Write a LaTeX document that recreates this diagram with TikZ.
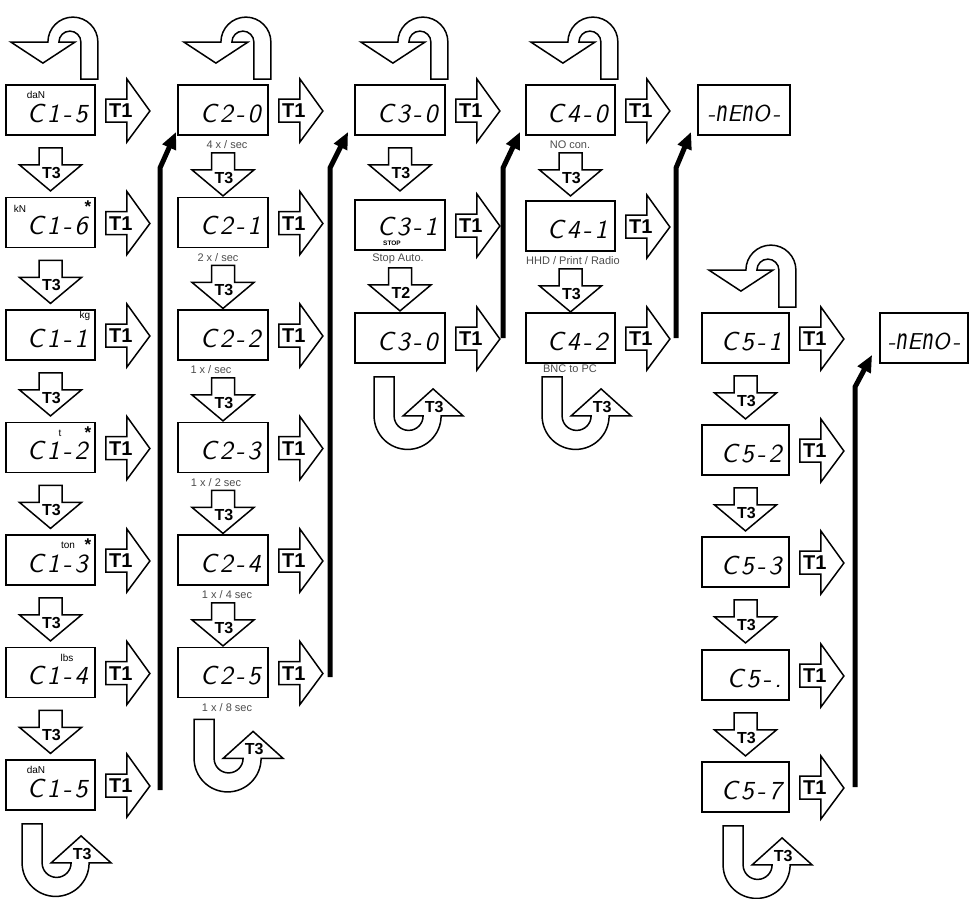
\documentclass[tikz,border=0pt]{standalone}
\usepackage{fontspec}
\usetikzlibrary{arrows.meta,calc}
\newfontfamily\lblfont{Liberation Sans}
\newfontfamily\lcdfont{lmsans10-oblique.otf}[LetterSpace=12]

\begin{document}
\begin{tikzpicture}[x=1pt,y=-1pt]
\tikzstyle{box}=[draw,line width=1.8pt,minimum width=89pt,minimum height=50pt,inner sep=0pt]
\tikzstyle{lcd}=[font=\lcdfont\fontsize{26}{26}\selectfont,inner sep=0pt,anchor=base east]
\tikzstyle{unit}=[font=\lblfont\fontsize{10}{10}\selectfont,inner sep=0pt]
\tikzstyle{star}=[font=\lblfont\bfseries\fontsize{17}{17}\selectfont,inner sep=0pt,anchor=base]
\tikzstyle{sub}=[font=\lblfont\fontsize{11}{11}\selectfont,text=black!70,inner sep=0pt]
\tikzstyle{key}=[font=\lblfont\bfseries\fontsize{20}{20}\selectfont,inner sep=0pt]
\tikzstyle{keysm}=[font=\lblfont\bfseries\fontsize{16}{16}\selectfont,inner sep=0pt]
\tikzstyle{blk}=[draw,line width=1.5pt]
\tikzstyle{conn}=[draw,line width=5pt,-{Triangle[length=17pt,width=14pt]}]
\tikzset{
  tone/.pic={
    \draw[blk] (10,-11) -- (31,-11) -- (31,-31) -- (54,1) -- (31,32) -- (31,12) -- (10,12) -- cycle;
    \node[key] (-t) at (25,1) {T1};
  },
  tdown/.pic={
    \draw[blk] (-11.5,12) -- (11.5,12) -- (11.5,29) -- (31,29) -- (0,55) -- (-31,29) -- (-11.5,29) -- cycle;
    \node[keysm] (-t) at (1,37) {#1};
  },
  hook/.pic={
    \draw[blk] (2,-5) -- (2,-42) arc[start angle=0,end angle=-180,radius=25] -- (-85,-42) -- (-53,-21) -- (-21,-42) -- (-37,-42) arc[start angle=180,end angle=360,radius=11] -- (-15,-5) -- cycle;
  },
  uturn/.pic={
    \draw[blk] (17,13) -- (17,52) arc[start angle=180,end angle=0,radius=33.5] -- (106,52) -- (76,25) -- (46,52) -- (66,52) arc[start angle=0,end angle=180,radius=14.5] -- (37,13) -- cycle;
    \node[keysm] (-t) at (77,43) {T3};
  }
}
\useasboundingbox (0,0) rectangle (969,898);

% column 1: units
\node[box] (c1a) at (50.5,110) {};
\node[box] (c1b) at (50.5,222.5) {};
\node[box] (c1c) at (50.5,335) {};
\node[box] (c1d) at (50.5,447.5) {};
\node[box] (c1e) at (50.5,560) {};
\node[box] (c1f) at (50.5,672.5) {};
\node[box] (c1g) at (50.5,785) {};
\node[lcd] (c1a-d) at ($(c1a.east)+(-8,12)$) {C1-5};
\node[lcd] (c1b-d) at ($(c1b.east)+(-8,12)$) {C1-6};
\node[lcd] (c1c-d) at ($(c1c.east)+(-8,12)$) {C1-1};
\node[lcd] (c1d-d) at ($(c1d.east)+(-8,12)$) {C1-2};
\node[lcd] (c1e-d) at ($(c1e.east)+(-8,12)$) {C1-3};
\node[lcd] (c1f-d) at ($(c1f.east)+(-8,12)$) {C1-4};
\node[lcd] (c1g-d) at ($(c1g.east)+(-8,12)$) {C1-5};
\node[unit] (c1a-u) at (36,95) {daN};
\node[unit] (c1b-u) at (20,209) {kN};
\node[unit] (c1c-u) at (85,316) {kg};
\node[unit] (c1d-u) at (60,433) {t};
\node[unit] (c1e-u) at (68,545) {ton};
\node[unit] (c1f-u) at (67,658) {lbs};
\node[unit] (c1g-u) at (36,770) {daN};
\node[star] (c1b-s) at (88,212) {*};
\node[star] (c1d-s) at (88,438) {*};
\node[star] (c1e-s) at (88,550) {*};

% column 2: rate
\node[box,minimum width=90pt] (c2a) at (223,110) {};
\node[box,minimum width=90pt] (c2b) at (223,222.5) {};
\node[box,minimum width=90pt] (c2c) at (223,335) {};
\node[box,minimum width=90pt] (c2d) at (223,447.5) {};
\node[box,minimum width=90pt] (c2e) at (223,560) {};
\node[box,minimum width=90pt] (c2f) at (223,672.5) {};
\node[lcd] (c2a-d) at ($(c2a.east)+(-8,12)$) {C2-0};
\node[lcd] (c2b-d) at ($(c2b.east)+(-8,12)$) {C2-1};
\node[lcd] (c2c-d) at ($(c2c.east)+(-8,12)$) {C2-2};
\node[lcd] (c2d-d) at ($(c2d.east)+(-8,12)$) {C2-3};
\node[lcd] (c2e-d) at ($(c2e.east)+(-8,12)$) {C2-4};
\node[lcd] (c2f-d) at ($(c2f.east)+(-8,12)$) {C2-5};
\node[sub] (c2a-l) at (227,145) {4 x / sec};
\node[sub] (c2b-l) at (218,257.5) {2 x / sec};
\node[sub] (c2c-l) at (211,370) {1 x / sec};
\node[sub] (c2d-l) at (216,482.5) {1 x / 2 sec};
\node[sub] (c2e-l) at (227,595) {1 x / 4 sec};
\node[sub] (c2f-l) at (227,707.5) {1 x / 8 sec};

% column 3
\node[box,minimum width=90pt] (c3a) at (400,110) {};
\node[box,minimum width=90pt] (c3b) at (400,225) {};
\node[box,minimum width=90pt] (c3c) at (400,338) {};
\node[lcd] (c3a-d) at ($(c3a.east)+(-8,12)$) {C3-0};
\node[lcd] (c3b-d) at ($(c3b.east)+(-8,10)$) {C3-1};
\node[lcd] (c3c-d) at ($(c3c.east)+(-8,12)$) {C3-0};
\node[font=\lblfont\bfseries\fontsize{6.5}{6.5}\selectfont,inner sep=0pt] (c3b-s) at (392,243) {STOP};
\node[sub] (c3b-l) at (398,259) {Stop Auto.};

% column 4
\node[box] (c4a) at (570.5,110) {};
\node[box] (c4b) at (570.5,226) {};
\node[box] (c4c) at (570.5,338) {};
\node[lcd] (c4a-d) at ($(c4a.east)+(-8,12)$) {C4-0};
\node[lcd] (c4b-d) at ($(c4b.east)+(-8,12)$) {C4-1};
\node[lcd] (c4c-d) at ($(c4c.east)+(-8,12)$) {C4-2};
\node[sub] (c4a-l) at (570,145) {NO con.};
\node[sub] (c4b-l) at (573,261) {HHD / Print / Radio};
\node[sub] (c4c-l) at (570,369) {BNC to PC};

% memo
\node[box,minimum width=92pt] (n1) at (744,110) {};
\node[box,minimum width=88pt] (n2) at (924,338) {};
\node[lcd,anchor=base,font=\lcdfont\fontsize{23}{23}\selectfont] (n1-d) at ($(n1.center)+(0,11)$) {-\scalebox{1}[1.5]{n}E\scalebox{1}[1.5]{n}O-};
\node[lcd,anchor=base,font=\lcdfont\fontsize{23}{23}\selectfont] (n2-d) at ($(n2.center)+(0,11)$) {-\scalebox{1}[1.5]{n}E\scalebox{1}[1.5]{n}O-};

% column 5
\node[box,minimum width=87pt] (c5a) at (745.5,338) {};
\node[box,minimum width=87pt] (c5b) at (745.5,450) {};
\node[box,minimum width=87pt] (c5c) at (745.5,562) {};
\node[box,minimum width=87pt] (c5d) at (745.5,675) {};
\node[box,minimum width=87pt] (c5e) at (745.5,787) {};
\node[lcd] (c5a-d) at ($(c5a.east)+(-8,12)$) {C5-1};
\node[lcd] (c5b-d) at ($(c5b.east)+(-8,12)$) {C5-2};
\node[lcd] (c5c-d) at ($(c5c.east)+(-8,12)$) {C5-3};
\node[lcd] (c5d-d) at ($(c5d.east)+(-8,12)$) {C5-.};
\node[lcd] (c5e-d) at ($(c5e.east)+(-8,12)$) {C5-7};

% T1 keys
\foreach \b in {c1a,c1b,c1c,c1d,c1e,c1f,c1g,c2a,c2b,c2c,c2d,c2e,c2f,c3a,c3b,c3c,c4a,c4b,c4c,c5a,c5b,c5c,c5d,c5e}
  \pic (k\b) at (\b.east) {tone};

% T3 / T2 keys
\foreach \b in {c1a,c1b,c1c,c1d,c1e,c1f,c3a,c5a,c5b,c5c,c5d}
  \pic (d\b) at (\b.south) {tdown=T3};
\foreach \b in {c2a,c2b,c2c,c2d,c2e,c4a,c4b}
  \pic (d\b) at ($(\b.south)+(0,5)$) {tdown=T3};
\pic (dc3b) at ($(c3b.south)+(0,5)$) {tdown=T2};

% back to top
\pic (hc1a) at (c1a.north east) {hook};
\pic (hc2a) at (c2a.north east) {hook};
\pic (hc3a) at (c3a.north east) {hook};
\pic (hc4a) at (c4a.north east) {hook};
\pic (hc5a) at ($(c5a.north east)+(4,0)$) {hook};

% wrap around
\pic (uc1g) at (c1g.south west) {uturn};
\pic (uc2f) at ($(c2f.south west)+(0,8)$) {uturn};
\pic (uc3c) at ($(c3c.south west)+(3,0)$) {uturn};
\pic (uc4c) at (c4c.south west) {uturn};
\pic (uc5e) at ($(c5e.south west)+(5,0)$) {uturn};

% T1 lines
\coordinate (l1) at (160,790);
\coordinate (l2) at (330,677);
\coordinate (l3) at (503,338);
\coordinate (l4) at (676,338);
\coordinate (l5) at (855,787);
\draw[conn] (l1) -- ++(0,-622) -- ($(c2a.south west)+(-1,-4)$);
\draw[conn] (l2) -- ++(0,-509) -- ($(c3a.south west)+(-6,-4)$);
\draw[conn] (l3) -- ++(0,-170) -- ($(c4a.south west)+(-5,-4)$);
\draw[conn] (l4) -- ++(0,-170) -- ($(n1.south west)+(-6,-4)$);
\draw[conn] (l5) -- ++(0,-400) -- ($(n2.south west)+(-7,-9)$);
\end{tikzpicture}
\end{document}
